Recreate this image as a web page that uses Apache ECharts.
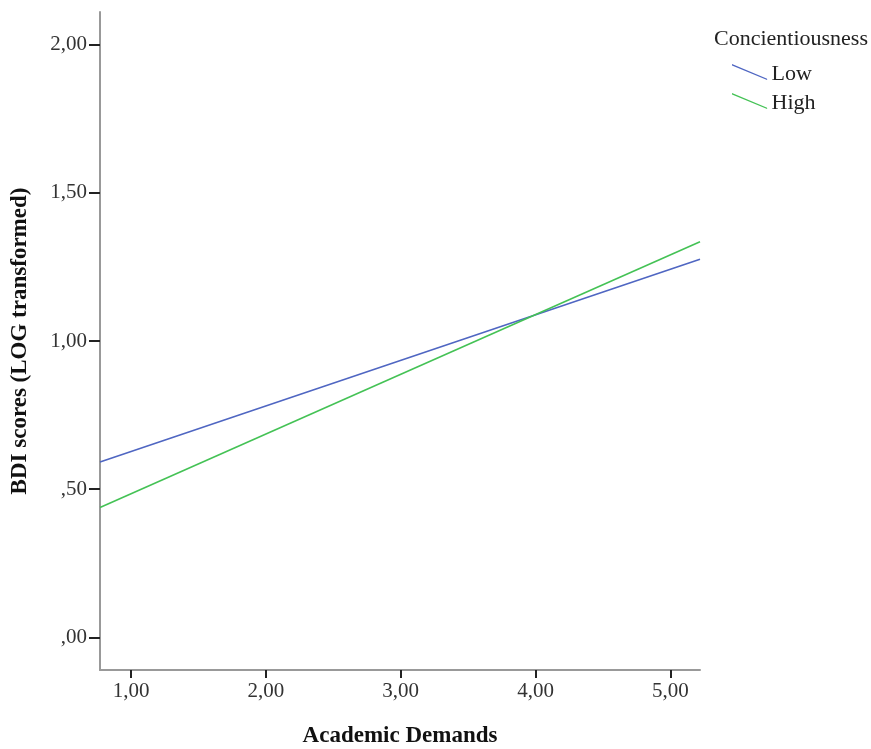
<!DOCTYPE html>
<html><head><meta charset="utf-8">
<script src="https://cdn.jsdelivr.net/npm/echarts@6/dist/echarts.min.js"></script>
<style>html,body{margin:0;padding:0;background:#fff}#c{width:871px;height:749px}</style>
</head><body><div id="c"></div>
<script>
const xEnds = [0.77, 5.22];
const lowValues = [0.592, 1.276];
const highValues = [0.438, 1.335];
const xTicks = [1, 2, 3, 4, 5];
const yTicks = [0, 0.5, 1, 1.5, 2];
const seriesNames = ['Low', 'High'];
const legendTitle = 'Concientiousness';

const fmt = v => { let s = v.toFixed(2).replace('.', ','); if (s.startsWith('0,')) s = s.slice(1); return s; };
const font = '"Liberation Serif", "Times New Roman", serif';
const chart = echarts.init(document.getElementById('c'), null, {renderer: 'canvas'});
chart.setOption({
  animation: false,
  textStyle: {fontFamily: font},
  title: {text: legendTitle, left: 709, top: 23, textStyle: {fontFamily: font, fontWeight: 'normal', fontSize: 22, color: '#222'}},
  legend: {
    orient: 'vertical', left: 727, top: 58, padding: 5, itemWidth: 36, itemHeight: 20, itemGap: 7,
    data: seriesNames.map(n => ({name: n, icon: 'path://M0,0 L36,15 L36,16.5 L0,1.5 Z M36,20.4 L36.01,20.5 L36,20.5 Z'})),
    textStyle: {fontFamily: font, fontSize: 22, color: '#222', lineHeight: 20, padding: [0, 0, 0, -1]}
  },
  grid: {left: 100, right: 171, top: 12, bottom: 79, containLabel: false, outerBoundsMode: 'none'},
  xAxis: {
    type: 'value', min: xEnds[0], max: xEnds[1],
    name: 'Academic Demands', nameLocation: 'middle', nameGap: 55, nameMoveOverlap: false,
    nameTextStyle: {fontFamily: font, fontWeight: 'bold', fontSize: 23, color: '#111'},
    axisLine: {onZero: false, lineStyle: {color: '#999', width: 2}},
    axisTick: {show: true, length: 8, lineStyle: {color: '#222', width: 2}, customValues: xTicks},
    axisLabel: {customValues: xTicks, formatter: fmt, fontFamily: font, fontSize: 21, color: '#333', margin: 11},
    splitLine: {show: false}
  },
  yAxis: {
    type: 'value', min: -0.11, max: 2.11,
    name: 'BDI scores (LOG transformed)', nameLocation: 'middle', nameGap: 68, nameMoveOverlap: false,
    nameTextStyle: {fontFamily: font, fontWeight: 'bold', fontSize: 23, color: '#111'},
    axisLine: {show: true, onZero: false, lineStyle: {color: '#999', width: 2}},
    axisTick: {show: true, length: 11, lineStyle: {color: '#222', width: 2}, customValues: yTicks},
    axisLabel: {customValues: yTicks, formatter: fmt, fontFamily: font, fontSize: 21, color: '#333', margin: 13},
    splitLine: {show: false}
  },
  series: [
    {name: seriesNames[0], type: 'line', data: xEnds.map((x, i) => [x, lowValues[i]]), showSymbol: false, symbol: 'none', lineStyle: {color: '#4f66c2', width: 1.6}, itemStyle: {color: '#4f66c2'}},
    {name: seriesNames[1], type: 'line', data: xEnds.map((x, i) => [x, highValues[i]]), showSymbol: false, symbol: 'none', lineStyle: {color: '#44c255', width: 1.6}, itemStyle: {color: '#44c255'}}
  ]
});
</script></body></html>
